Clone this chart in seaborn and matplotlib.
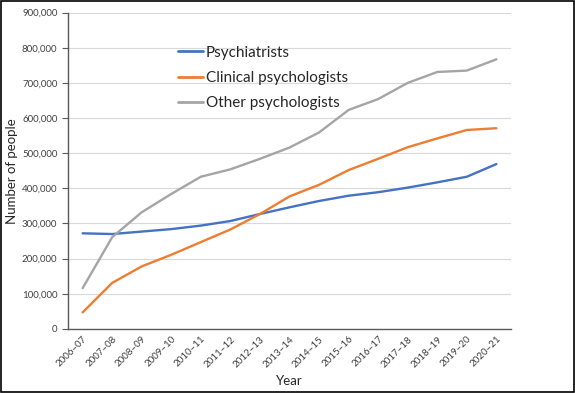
import numpy as np
import pandas as pd
import seaborn as sns
import matplotlib.pyplot as plt
from matplotlib.patches import Rectangle

# Values
years = ['2006–07', '2007–08', '2008–09', '2009–10', '2010–11', '2011–12', '2012–13',
         '2013–14', '2014–15', '2015–16', '2016–17', '2017–18', '2018–19', '2019–20', '2020–21']
psychiatrists = [272000, 270000, 277000, 284000, 294000, 307000, 327000, 346000,
                 364000, 379000, 389000, 402000, 417000, 433000, 469000]
clinical = [47000, 131000, 178000, 211000, 247000, 283000, 327000, 377000,
            410000, 452000, 484000, 517000, 542000, 566000, 571000]
other = [116000, 261000, 332000, 384000, 433000, 454000, 484000, 516000,
         559000, 623000, 654000, 700000, 731000, 735000, 767000]
series_names = ['Psychiatrists', 'Clinical psychologists', 'Other psychologists']
colours = ['#4472C4', '#ED7D31', '#A5A5A5']

df = pd.DataFrame({
    'Year': years * 3,
    'value': psychiatrists + clinical + other,
    'group': np.repeat(series_names, len(years)),
})

sns.set_style('white')
plt.rcParams['font.family'] = ['Lato', 'DejaVu Sans']

fig = plt.figure(figsize=(5.75, 3.93), dpi=100)
ax = fig.add_axes([0.118, 0.163, 0.771, 0.805])

sns.lineplot(data=df, x='Year', y='value', hue='group', hue_order=series_names,
             palette=colours, linewidth=1.7, ax=ax, sort=False)

ax.set_xlim(-0.5, len(years) - 0.5)
ax.set_ylim(0, 900000)
ax.set_yticks(range(0, 900001, 100000))
ax.set_yticklabels([f'{v:,}' for v in range(0, 900001, 100000)], fontsize=7, color='#404040')
ax.yaxis.grid(True, color='#D9D9D9', linewidth=0.8)
ax.set_axisbelow(True)

# category labels at centres, tick marks between categories
ax.set_xticks(range(len(years)))
ax.set_xticklabels(years, rotation=45, ha='right', rotation_mode='anchor',
                   fontsize=7, color='#404040')
ax.set_xticks(np.arange(-0.5, len(years)), minor=True)
ax.tick_params(axis='x', which='major', length=0, pad=4)
ax.tick_params(axis='x', which='minor', length=4, width=0.8, color='#595959', direction='out')
ax.tick_params(axis='y', length=4, width=0.8, color='#595959', direction='out', left=True)

for side in ['top', 'right']:
    ax.spines[side].set_visible(False)
for side in ['left', 'bottom']:
    ax.spines[side].set_color('#595959')
    ax.spines[side].set_linewidth(1.0)

ax.set_xlabel('Year', fontsize=9.5, color='#262626', labelpad=4)
ax.set_ylabel('Number of people', fontsize=9.5, color='#262626', labelpad=3)

leg = ax.legend(loc='upper left', bbox_to_anchor=(0.235, 0.915), frameon=False,
                fontsize=11, handlelength=1.6, handletextpad=0.2, labelspacing=0.75,
                borderaxespad=0)
for line in leg.get_lines():
    line.set_linewidth(2)

fig.patches.append(Rectangle((0.002, 0.002), 0.996, 0.995, transform=fig.transFigure,
                             fill=False, edgecolor='black', linewidth=1.2))

fig.savefig('out.png', dpi=100)
